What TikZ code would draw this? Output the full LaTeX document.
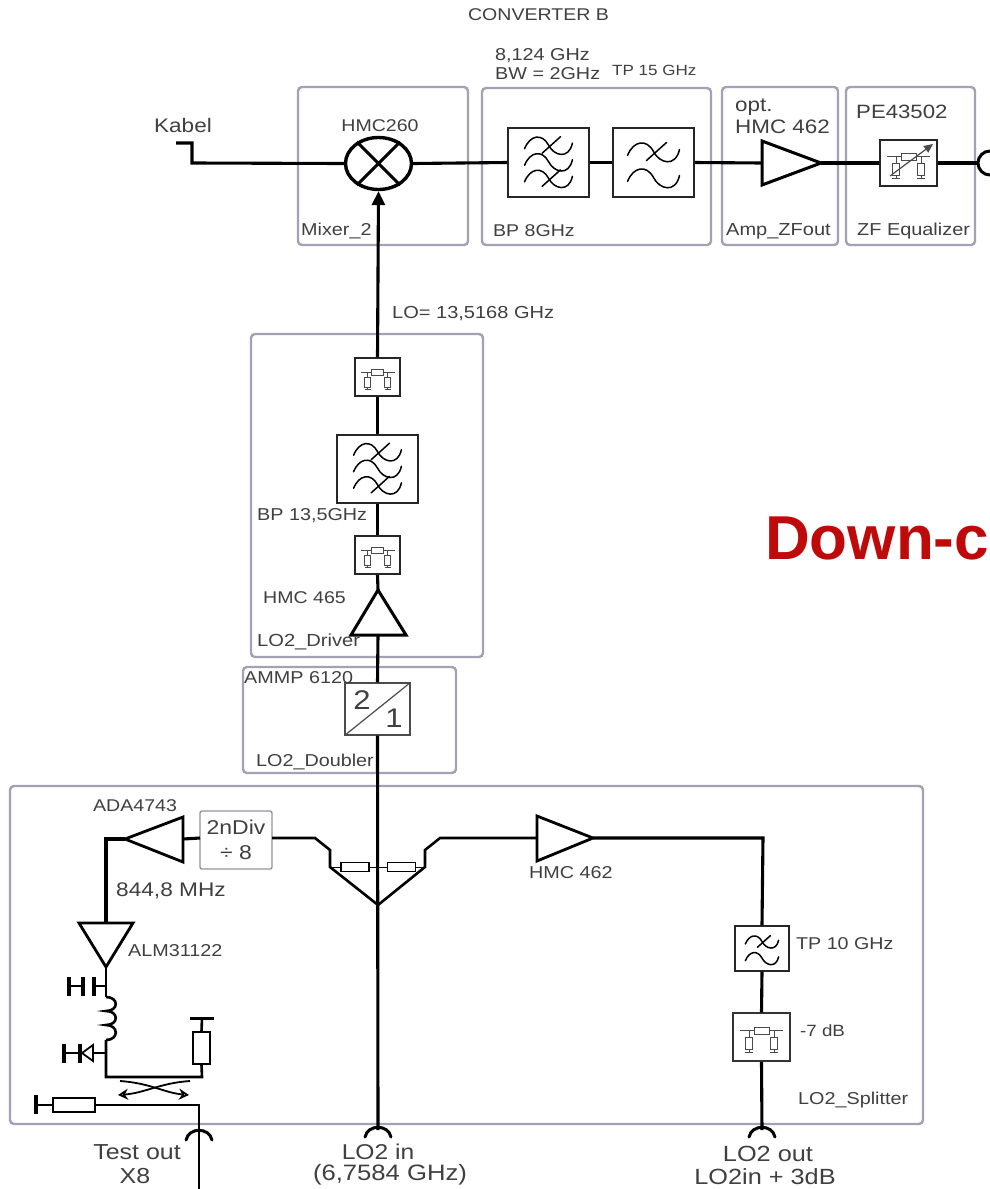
\documentclass[tikz,border=0pt]{standalone}
\usepackage{fontspec}
\setmainfont{Liberation Sans}
\newfontfamily\stf[FakeStretch=1.15]{Liberation Sans}
\usetikzlibrary{arrows.meta,shapes.geometric}
\definecolor{grp}{HTML}{A2A2B4}
\definecolor{txt}{HTML}{404040}
\definecolor{sym}{HTML}{4A4A4A}
\definecolor{redt}{HTML}{BE0A0A}
\newcommand\fs[1]{\fontsize{#1}{#1}\selectfont\stf}
\newcommand\wvline[1]{\begin{scope}[shift={(0,#1)}]
 \draw[symline,black] (-26,3) .. controls (-20,-12) and (-7,-14) .. (0,-1) .. controls (6,11) and (22,15) .. (26,-3);
\end{scope}}
\newcommand\wslash[1]{\draw[symline,black] (-7,#1+8) -- (13,#1-10);}
\tikzset{
 wire/.style={line width=3.1pt,black,line join=miter},
 twire/.style={line width=2.6pt,black},
 symline/.style={line width=1.5pt,line cap=round},
 grpbox/.style={draw=grp,line width=2.4pt,rounded corners=4pt,fill=white,inner sep=0pt},
 fbox/.style={draw=black!85,line width=1.8pt,fill=white,inner sep=0pt},
 lbl/.style={anchor=west,inner sep=0pt,text=txt},
 clbl/.style={inner sep=0pt,text=txt,align=center},
 res/.style={draw=black,line width=1.7pt,fill=white,inner sep=0pt},
 lpsym/.pic={\wvline{-10}\wslash{-10}\wvline{16}},
 bpsym/.pic={\begin{scope}[scale=.92]\wvline{-18}\wslash{-18}\wvline{0}\wvline{18}\wslash{18}\end{scope}},
 attsym/.pic={
  \draw[sym,line width=1pt] (-17,-5) -- (17,-5) (-10,-5) -- (-10,12) (10,-5) -- (10,12)
     (-13,12) -- (-7,12) (7,12) -- (13,12);
  \draw[sym,line width=1pt,fill=white] (-6,-8) rectangle (6,-2) (-13,0) rectangle (-7,10) (7,0) rectangle (13,10);
 },
 connarc/.pic={\draw[line width=3pt,black,line cap=round] (-13,7) .. controls (-10,-6) and (10,-6) .. (13,7);},
}
\begin{document}
\begin{tikzpicture}[x=1pt,y=-1pt]
\useasboundingbox (0,0) rectangle (990,1189);
\clip (0,0) rectangle (990,1189);
\fill[white] (0,0) rectangle (990,1189);

% group boxes
\node[grpbox,minimum width=170pt,minimum height=158pt] (gmix) at (383,166) {};
\node[grpbox,minimum width=229pt,minimum height=157pt] (gbp) at (596.5,166.5) {};
\node[grpbox,minimum width=116pt,minimum height=158pt] (gamp) at (780,166) {};
\node[grpbox,minimum width=129pt,minimum height=158pt] (gzf) at (910.5,166) {};
\node[grpbox,minimum width=232pt,minimum height=323pt] (gdrv) at (367,495.5) {};
\node[grpbox,minimum width=213pt,minimum height=106pt] (gdbl) at (349.5,720) {};
\node[grpbox,minimum width=913pt,minimum height=338pt] (gspl) at (466.5,955) {};

% top chain
\coordinate (kab0) at (176,143);
\coordinate (kab1) at (192,143);
\coordinate (kab2) at (192,163);
\node[draw=black,line width=3.4pt,fill=white,shape=ellipse,minimum width=66pt,minimum height=52pt,inner sep=0pt] (mix) at (378.5,163.5) {};
\node[fbox,minimum width=81pt,minimum height=69pt] (bpf) at (548.5,162.5) {};
\node[fbox,minimum width=81pt,minimum height=69pt] (tpf) at (653.5,162.5) {};
\coordinate (a1in) at (762,163);
\coordinate (a1t) at (762,141);
\coordinate (a1b) at (762,185);
\coordinate (a1out) at (821,163);
\node[fbox,minimum width=57pt,minimum height=46pt] (zf) at (908.5,163) {};
\node[draw=black,line width=3pt,fill=white,circle,minimum size=24pt,inner sep=0pt] (outc) at (990,163) {};
\draw[wire] (kab0) -- (kab1) -- (kab2) -- (mix.west);
\draw[wire] (mix.east) -- (bpf.west);
\draw[wire] (bpf.east) -- (tpf.west);
\draw[wire] (tpf.east) -- (a1in);
\draw[wire] (a1out) -- (zf.west);
\draw[wire] (zf.east) -- (outc.west);
\draw[line width=3pt] (a1t) -- (a1out) -- (a1b) -- cycle;
\draw[line width=3pt] (mix.135) -- (mix.-45) (mix.45) -- (mix.-135);
\pic at (bpf) {bpsym};
\pic at (tpf) {lpsym};
\pic[scale=1.25] at (zf) {attsym};
\coordinate (zfa) at (890,176);
\coordinate (zfb) at (933,144);
\draw[line width=1.2pt,sym,-{Triangle[length=9pt,width=8pt]}] (zfa) -- (zfb);

% LO column
\node[fbox,minimum width=45pt,minimum height=38pt] (att1) at (377.5,377) {};
\node[fbox,minimum width=81pt,minimum height=68pt] (bp2) at (377.5,469) {};
\node[fbox,minimum width=45pt,minimum height=38pt] (att2) at (377.5,555) {};
\coordinate (a2top) at (378,590);
\coordinate (a2l) at (351,635);
\coordinate (a2r) at (406,635);
\coordinate (a2base) at (378,635);
\node[draw=black!70,line width=1.2pt,fill=white,minimum width=65pt,minimum height=52pt,inner sep=0pt] (dbl) at (377.5,709) {};
\coordinate (split) at (378,905);
\coordinate (lo2in) at (378,1130);
\draw[wire] (lo2in) -- (dbl.south);
\draw[wire] (dbl.north) -- (a2base);
\draw[wire] (a2top) -- (att2.south);
\draw[wire] (att2.north) -- (bp2.south);
\draw[wire] (bp2.north) -- (att1.south);
\draw[wire,-{Triangle[length=14pt,width=13pt]}] (att1.north) -- (mix.south);
\draw[line width=3pt,line join=miter] (a2top) -- (a2r) -- (a2l) -- cycle;
\pic at (att1) {attsym};
\pic at (att2) {attsym};
\pic at (bp2) {bpsym};
\draw[black!70,line width=1.2pt] (dbl.south west) -- (dbl.north east);

% splitter
\node[draw=grp!90!black,line width=1.4pt,rounded corners=2pt,fill=white,minimum width=72pt,minimum height=58pt,inner sep=0pt,align=center,text=txt,font=\fs{20}] (div) at (236,840) {2nDiv\\[5pt]÷ 8};
\node[res,minimum width=28pt,minimum height=9pt] (r1) at (355,867) {};
\node[res,minimum width=28pt,minimum height=9pt] (r2) at (401.5,867) {};
\coordinate (lb0) at (315,838);
\coordinate (lb1) at (330,850);
\coordinate (lb2) at (330,867);
\coordinate (rb0) at (440,838);
\coordinate (rb1) at (425,850);
\coordinate (rb2) at (425,867);
\coordinate (a3in) at (537,838);
\coordinate (a3t) at (537,816);
\coordinate (a3b) at (537,861);
\coordinate (a3out) at (593,838);
\coordinate (rt) at (763,838);
\coordinate (divr) at (272,838);
\coordinate (divl) at (200,838);
\draw[twire] (divr) -- (lb0) -- (lb1) -- (lb2) -- (split) -- (rb2) -- (rb1) -- (rb0) -- (a3in);
\draw[line width=2.8pt] (a3t) -- (a3out) -- (a3b) -- cycle;
\draw[line width=1pt] (lb2) -- (r1.west) (r1.east) -- (r2.west) (r2.east) -- (rb2);
\node[fbox,minimum width=54pt,minimum height=45pt] (tp10) at (762,948.5) {};
\node[draw=black!80,line width=1.5pt,fill=white,minimum width=57pt,minimum height=48pt,inner sep=0pt] (att3) at (761.5,1037) {};
\coordinate (lo2out) at (762,1130);
\draw[wire] (a3out) -- (rt) -- (tp10.north);
\draw[wire] (tp10.south) -- (att3.north);
\draw[wire] (att3.south) -- (lo2out);
\pic[scale=.64] at (tp10) {lpsym};
\pic[scale=1.25] at (att3) {attsym};
\pic at (lo2in) {connarc};
\pic at (lo2out) {connarc};

% left branch
\coordinate (a4out) at (125,839);
\coordinate (a4t) at (183,817);
\coordinate (a4b) at (183,862);
\coordinate (a4in) at (183,839);
\coordinate (lc) at (106,839);
\coordinate (a5in) at (106,923);
\coordinate (a5l) at (79,923);
\coordinate (a5r) at (133,923);
\coordinate (a5out) at (106,967);
\coordinate (ind0) at (106,997);
\coordinate (ind1) at (106,1040);
\coordinate (cor) at (106,1077);
\coordinate (cor2) at (202,1077);
\node[res,minimum width=17pt,minimum height=32pt] (r3) at (201.5,1048) {};
\coordinate (gnd3) at (202,1018);
\node[res,minimum width=42pt,minimum height=14pt] (r4) at (74,1105) {};
\coordinate (gnd4) at (36,1105);
\coordinate (tc) at (199,1105);
\coordinate (tout) at (199,1189);
\coordinate (tarc) at (199,1133);
\draw[wire] (divl) -- (a4in);
\draw[line width=2.8pt] (a4t) -- (a4out) -- (a4b) -- cycle;
\draw[wire] (a4out) -- (lc) -- (a5in);
\draw[line width=2.8pt] (a5l) -- (a5r) -- (a5out) -- cycle;
\draw[twire] (a5out) -- (ind0);
\draw[twire] (ind0) .. controls (119,997) and (119,1011) .. (106,1011) .. controls (119,1011) and (119,1025) .. (106,1025) .. controls (119,1025) and (119,1040) .. (ind1);
\draw[twire] (ind1) -- (cor) -- (cor2) -- (r3.south);
\draw[twire] (r3.north) -- (gnd3);
\draw[line width=3pt] (190,1018) -- (214,1018);
\draw[twire] (r4.west) -- (gnd4);
\draw[line width=3.4pt] (36,1095) -- (36,1114);
\draw[twire] (r4.east) -- (tc) -- (tout);
\pic at (tarc) {connarc};
% capacitor
\coordinate (capa) at (106,986);
\coordinate (capb) at (94,986);
\coordinate (capc) at (83,986);
\coordinate (capd) at (69,986);
\draw[twire] (capa) -- (capb);
\draw[line width=3.2pt] (94,977) -- (94,996) (83,977) -- (83,996) (69,977) -- (69,996);
\draw[twire] (capc) -- (capd);
% diode
\coordinate (dia) at (106,1053);
\coordinate (dib) at (93,1053);
\coordinate (dic) at (82,1053);
\coordinate (did) at (64,1053);
\draw[twire] (dia) -- (dib);
\draw[line width=1.8pt] (93,1045) -- (93,1061) -- (dic) -- cycle;
\draw[twire] (dic) -- (did);
\draw[line width=3.2pt] (64,1044) -- (64,1063) (80,1044) -- (80,1063);
% coupler
\coordinate (c1a) at (190,1081);
\coordinate (c1b) at (118,1095);
\coordinate (c2a) at (120,1081);
\coordinate (c2b) at (189,1095);
\draw[line width=1.8pt,-{Stealth[length=10pt,width=11pt,open]}] (c1a) .. controls (160,1083) and (145,1093) .. (c1b);
\draw[line width=1.8pt,-{Stealth[length=10pt,width=11pt,open]}] (c2a) .. controls (150,1083) and (165,1093) .. (c2b);

% texts
\node[clbl,font=\fs{17}] (t1) at (538.5,15) {CONVERTER B};
\node[lbl,font=\fs{17.2}] (t2) at (495,56) {8,124 GHz};
\node[lbl,font=\fs{17.2}] (t3) at (495,74) {BW = 2GHz};
\node[lbl,font=\fs{14.8}] (t4) at (612,70) {TP 15 GHz};
\node[lbl,font=\fs{19.5}] (t5) at (735,107) {opt.};
\node[lbl,font=\fs{19.5}] (t6) at (735,127) {HMC 462};
\node[lbl,font=\fs{19.3}] (t7) at (856,112) {PE43502};
\node[clbl,font=\fs{17}] (t8) at (380,126) {HMC260};
\node[lbl,font=\fs{17.2}] (t9) at (301,231) {Mixer\_2};
\node[lbl,font=\fs{17}] (t10) at (493,231) {BP 8GHz};
\node[lbl,font=\fs{17.4}] (t11) at (726,231) {Amp\_ZFout};
\node[lbl,font=\fs{17.3}] (t12) at (857,231) {ZF Equalizer};
\node[clbl,font=\fs{19.6}] (t13) at (183,125) {Kabel};
\node[lbl,font=\fs{17.4}] (t14) at (392,314) {LO= 13,5168 GHz};
\node[lbl,font=\fs{17.2}] (t15) at (257,516) {BP 13,5GHz};
\node[lbl,font=\fs{17}] (t16) at (263,598) {HMC 465};
\node[lbl,font=\fs{17.5}] (t17) at (257,642) {LO2\_Driver};
\node[lbl,font=\fs{17.2}] (t18) at (244,678) {AMMP 6120};
\node[lbl,font=\fs{17.2}] (t19) at (256,762) {LO2\_Doubler};
\node[clbl,font=\fs{27}] (t20) at (362,700) {2};
\node[clbl,font=\fs{27}] (t21) at (394,718) {1};
\node[lbl,font=\fs{17}] (t22) at (93,806) {ADA4743};
\node[lbl,font=\fs{19.7}] (t23) at (116,891) {844,8 MHz};
\node[lbl,font=\fs{17.2}] (t24) at (128,951) {ALM31122};
\node[lbl,font=\fs{17.2}] (t25) at (529,873) {HMC 462};
\node[lbl,font=\fs{17.1}] (t26) at (796,944) {TP 10 GHz};
\node[lbl,font=\fs{16.3}] (t27) at (800,1031) {-7 dB};
\node[lbl,font=\fs{17.2}] (t28) at (798,1100) {LO2\_Splitter};
\node[clbl,font=\fs{21.7}] (t29) at (137,1152) {Test out};
\node[clbl,font=\fs{21.7}] (t30) at (135,1176) {X8};
\node[clbl,font=\fs{21.4}] (t31) at (378,1152) {LO2 in};
\node[clbl,font=\fs{22.3}] (t32) at (390,1175) {(6,7584 GHz)};
\node[clbl,font=\fs{22}] (t33) at (768,1154) {LO2 out};
\node[clbl,font=\fs{22}] (t34) at (765,1177) {LO2in + 3dB};
\node[anchor=west,inner sep=0pt,text=redt,font=\fontsize{62}{62}\selectfont\bfseries] (t35) at (765,538) {Down-c};
\end{tikzpicture}
\end{document}
